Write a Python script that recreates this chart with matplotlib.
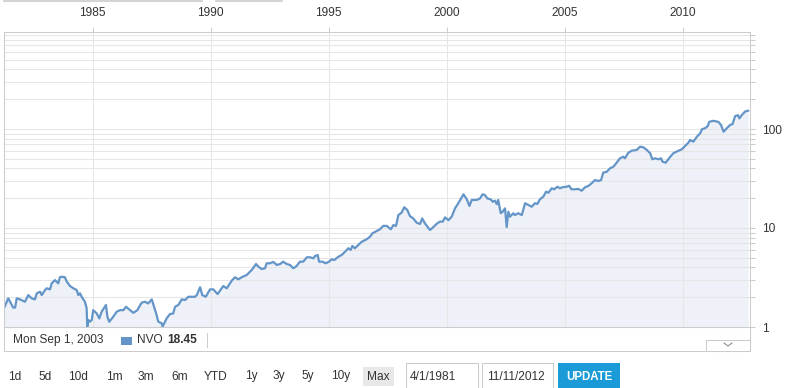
import matplotlib
matplotlib.use('Agg')
from matplotlib import pyplot as plt
from matplotlib.patches import Rectangle
from matplotlib.ticker import LogLocator, NullFormatter

plt.rcParams['font.family'] = ['Liberation Sans', 'DejaVu Sans']

# NVO monthly close (decimal year, price)
years = [
    1981.25, 1981.43, 1981.64, 1981.72, 1981.79, 1981.93, 1982.14, 1982.28, 1982.42, 1982.56,
    1982.64, 1982.78, 1982.85, 1982.99, 1983.06, 1983.20, 1983.27, 1983.41, 1983.55, 1983.62,
    1983.69, 1983.83, 1983.91, 1984.05, 1984.19, 1984.33, 1984.40, 1984.47, 1984.54, 1984.68,
    1984.75, 1984.78, 1984.82, 1984.89, 1984.97, 1985.03, 1985.18, 1985.29, 1985.39, 1985.57,
    1985.63, 1985.71, 1985.88, 1986.03, 1986.17, 1986.31, 1986.42, 1986.59, 1986.73, 1986.90,
    1987.08, 1987.22, 1987.36, 1987.51, 1987.61, 1987.69, 1987.79, 1987.93, 1987.97, 1988.14,
    1988.28, 1988.42, 1988.50, 1988.64, 1988.78, 1988.92, 1989.06,
    1989.34, 1989.42, 1989.56, 1989.65, 1989.80, 1989.98, 1990.12, 1990.30, 1990.54, 1990.69,
    1990.90, 1991.04, 1991.18, 1991.32, 1991.53, 1991.75, 1991.93, 1992.03, 1992.17, 1992.31,
    1992.38, 1992.52, 1992.66, 1992.81, 1992.95, 1993.08, 1993.23, 1993.37, 1993.51, 1993.65,
    1993.79, 1993.93, 1994.08, 1994.22, 1994.36, 1994.43, 1994.54, 1994.60, 1994.74, 1994.88,
    1995.02, 1995.14, 1995.25, 1995.42, 1995.56, 1995.70, 1995.84, 1995.94, 1996.01, 1996.12,
    1996.26, 1996.41, 1996.62, 1996.76, 1996.86, 1996.97,
    1997.04, 1997.18, 1997.32, 1997.47, 1997.64, 1997.75, 1997.86, 1997.96, 1998.10, 1998.21,
    1998.34, 1998.45, 1998.59, 1998.74, 1998.88, 1998.97, 1999.09, 1999.30, 1999.44, 1999.58,
    1999.72, 1999.84, 1999.94, 2000.08, 2000.22, 2000.36, 2000.50, 2000.72, 2000.86, 2000.97,
    2001.07, 2001.28, 2001.42, 2001.53, 2001.63, 2001.73, 2001.87, 2001.96, 2002.05, 2002.13,
    2002.19, 2002.30, 2002.38, 2002.48, 2002.55, 2002.62, 2002.69, 2002.83, 2002.90, 2003.04,
    2003.19, 2003.33, 2003.47, 2003.61, 2003.75, 2003.85, 2003.96, 2004.10, 2004.22, 2004.32,
    2004.46, 2004.56, 2004.70, 2004.81,
    2004.91, 2005.09, 2005.19, 2005.30, 2005.44, 2005.58, 2005.73, 2005.87, 2006.01, 2006.15,
    2006.29, 2006.43, 2006.55, 2006.64, 2006.79, 2006.93, 2007.07, 2007.21, 2007.35, 2007.49,
    2007.56, 2007.71, 2007.85, 2008.06, 2008.20, 2008.34, 2008.49, 2008.63, 2008.72, 2008.84,
    2008.98, 2009.09, 2009.15, 2009.29, 2009.43, 2009.61, 2009.80, 2009.97, 2010.11, 2010.25,
    2010.32, 2010.46, 2010.61, 2010.75, 2010.82, 2010.96, 2011.07, 2011.13, 2011.31, 2011.52,
    2011.63, 2011.74, 2011.88, 2012.02, 2012.12, 2012.23, 2012.35, 2012.41, 2012.51, 2012.65,
    2012.78,
]
nvo_close = [
    1.55, 1.95, 1.57, 1.57, 1.95, 1.90, 1.80, 2.10, 1.95, 1.90,
    2.19, 2.27, 2.10, 2.36, 2.46, 2.40, 2.76, 2.98, 2.76, 3.18,
    3.22, 3.18, 2.87, 2.59, 2.46, 2.36, 2.10, 2.19, 2.02, 1.80,
    1.55, 1.01, 1.18, 1.13, 1.18, 1.48, 1.37, 1.22, 1.43, 1.67,
    1.27, 1.13, 1.27, 1.43, 1.48, 1.48, 1.60, 1.48, 1.39, 1.48,
    1.76, 1.80, 1.73, 1.90, 1.60, 1.39, 1.13, 1.09, 1.01, 1.22,
    1.35, 1.37, 1.60, 1.67, 1.90, 1.87, 2.02,
    2.02, 2.10, 2.52, 2.10, 2.02, 2.40, 2.40, 2.15, 2.59, 2.46,
    2.94, 3.18, 3.03, 3.18, 3.35, 3.77, 4.33, 4.06, 3.85, 3.92,
    4.40, 4.40, 4.54, 4.23, 4.33, 4.57, 4.33, 4.23, 3.92, 4.13,
    4.57, 4.57, 5.06, 5.06, 4.94, 5.21, 5.34, 4.57, 4.57, 4.40,
    4.57, 4.83, 4.75, 5.13, 5.34, 5.76, 6.24, 6.00, 6.58, 6.24,
    6.73, 7.27, 7.69, 8.17, 8.84, 9.11,
    9.33, 9.70, 10.5, 10.5, 9.70, 10.7, 10.5, 13.5, 14.3, 16.2,
    15.2, 13.2, 12.5, 11.3, 11.0, 12.5, 11.1, 9.55, 10.2, 11.0,
    11.6, 11.6, 12.8, 12.0, 13.0, 15.8, 17.8, 21.9, 19.5, 16.7,
    19.2, 19.2, 19.9, 21.9, 21.5, 19.9, 19.5, 18.4, 18.9, 17.4,
    19.2, 14.1, 14.6, 15.8, 10.2, 14.6, 13.0, 14.1, 13.5, 14.1,
    13.5, 17.8, 17.1, 16.4, 17.8, 17.5, 19.5, 20.7, 23.3, 22.7,
    25.2, 24.6, 26.1, 25.2,
    25.8, 26.1, 26.7, 24.6, 24.6, 24.8, 23.8, 25.8, 26.6, 28.3,
    30.5, 29.8, 30.5, 36.2, 37.0, 40.1, 41.6, 45.7, 50.6, 52.5,
    50.6, 57.7, 60.4, 61.4, 66.3, 65.3, 61.4, 56.9, 49.4, 50.6,
    49.4, 50.6, 46.8, 45.7, 50.6, 56.9, 59.9, 62.4, 67.3, 72.7,
    77.4, 74.5, 83.6, 90.5, 99.3, 102, 107, 118, 121, 118,
    110, 93.9, 102, 110, 112, 135, 138, 128, 138, 150,
    153,
]

year_ticks = [1985, 1990, 1995, 2000, 2005, 2010]
price_ticks = [1, 10, 100]
range_buttons = ['1d', '5d', '10d', '1m', '3m', '6m', 'YTD', '1y', '3y', '5y', '10y', 'Max']
start_date = '4/1/1981'
end_date = '11/11/2012'
hover_date = 'Mon Sep 1, 2003'
symbol = 'NVO'
hover_price = '18.45'

W, H = 785, 388
fig = plt.figure(figsize=(W / 100, H / 100), dpi=100)

GRID = '#e6e6e6'
BORDER = '#cccccc'
TXT = '#333333'
LINE = '#6495c8'

# main chart, placed in pixels
left, right, top, bottom = 4, 750, 32, 327
ax = fig.add_axes([left / W, 1 - bottom / H, (right - left) / W, (bottom - top) / H])
ax.set_yscale('log')
ax.set_xlim(1981.25, 2012.86)
ax.set_ylim(1, 10 ** ((bottom - top) / 99))

ax.fill_between(years, nvo_close, 0.1, color='#eef2f8', lw=0)
ax.plot(years, nvo_close, color=LINE, lw=1.6, solid_joinstyle='round')

# x axis on top
ax.xaxis.tick_top()
ax.set_xticks(year_ticks)
ax.set_xticklabels([str(y) for y in year_ticks])
ax.tick_params(axis='x', length=3.6, width=0.75, color=BORDER, labelsize=8.6,
               labelcolor=TXT, pad=6)

# y axis on the right, log
ax.yaxis.tick_right()
ax.set_yticks(price_ticks)
ax.set_yticklabels([str(p) for p in price_ticks])
ax.yaxis.set_minor_locator(LogLocator(base=10, subs=range(2, 10)))
ax.yaxis.set_minor_formatter(NullFormatter())
ax.tick_params(axis='y', which='both', length=3.5, width=0.75, color=BORDER,
               labelsize=8.6, labelcolor=TXT, pad=5)

ax.grid(True, axis='y', which='both', color=GRID, lw=0.75)
ax.grid(True, axis='x', which='major', color=GRID, lw=0.75)
for s in ax.spines.values():
    s.set_color(BORDER)
    s.set_linewidth(0.75)

# page furniture drawn in pixel coords
ov = fig.add_axes([0, 0, 1, 1], zorder=-1)
ov.set_xlim(0, W)
ov.set_ylim(H, 0)
ov.axis('off')

# bits of the controls above, cut off by the crop
ov.plot([4, 202], [0.5, 0.5], color=BORDER, lw=1.2)
ov.plot([216, 282], [0.5, 0.5], color=BORDER, lw=1.2)

# legend strip
ov.add_patch(Rectangle((left, bottom), right - left, 24, facecolor='white',
                       edgecolor=BORDER, lw=0.75))
ov.text(13, 340, hover_date, fontsize=8.6, color=TXT, va='center', ha='left')
ov.add_patch(Rectangle((121, 336.5), 10.5, 8, facecolor=LINE, lw=0))
ov.text(136.5, 340, symbol, fontsize=8.6, color=TXT, va='center', ha='left')
ov.text(167.5, 340, hover_price, fontsize=8.6, color=TXT, va='center', ha='left',
        fontweight='bold')
ov.plot([207, 207], [333, 347], color=BORDER, lw=0.75)

# collapse tab
ov.add_patch(Rectangle((706, 339.5), 44, 11.5, facecolor='white', edgecolor=BORDER, lw=0.75))
ov.plot([724, 728, 732], [343, 346, 343], color='#888888', lw=0.75)

# range buttons
btn_x = [15, 45, 78, 114, 146, 180, 216, 251, 279, 308, 341, 378]
ov.add_patch(Rectangle((363, 367), 31, 19, facecolor='#e8e8e8', lw=0))
for lbl, bx in zip(range_buttons, btn_x):
    ov.text(bx, 376.5, lbl, fontsize=8.6, color=TXT, ha='center', va='center')

# date inputs + update button
ov.add_patch(Rectangle((406, 363), 72, 27, facecolor='white', edgecolor=BORDER, lw=0.75))
ov.text(410, 376.5, start_date, fontsize=8.6, color=TXT, ha='left', va='center')
ov.add_patch(Rectangle((482, 363), 71, 27, facecolor='white', edgecolor=BORDER, lw=0.75))
ov.text(487, 376.5, end_date, fontsize=8.6, color=TXT, ha='left', va='center')
ov.add_patch(Rectangle((558, 363), 62, 27, facecolor='#1a9bd7', lw=0))
ov.text(589, 376.5, 'UPDATE', fontsize=8.3, color='white', ha='center', va='center',
        fontweight='bold')

fig.savefig('out.png', dpi=100)
